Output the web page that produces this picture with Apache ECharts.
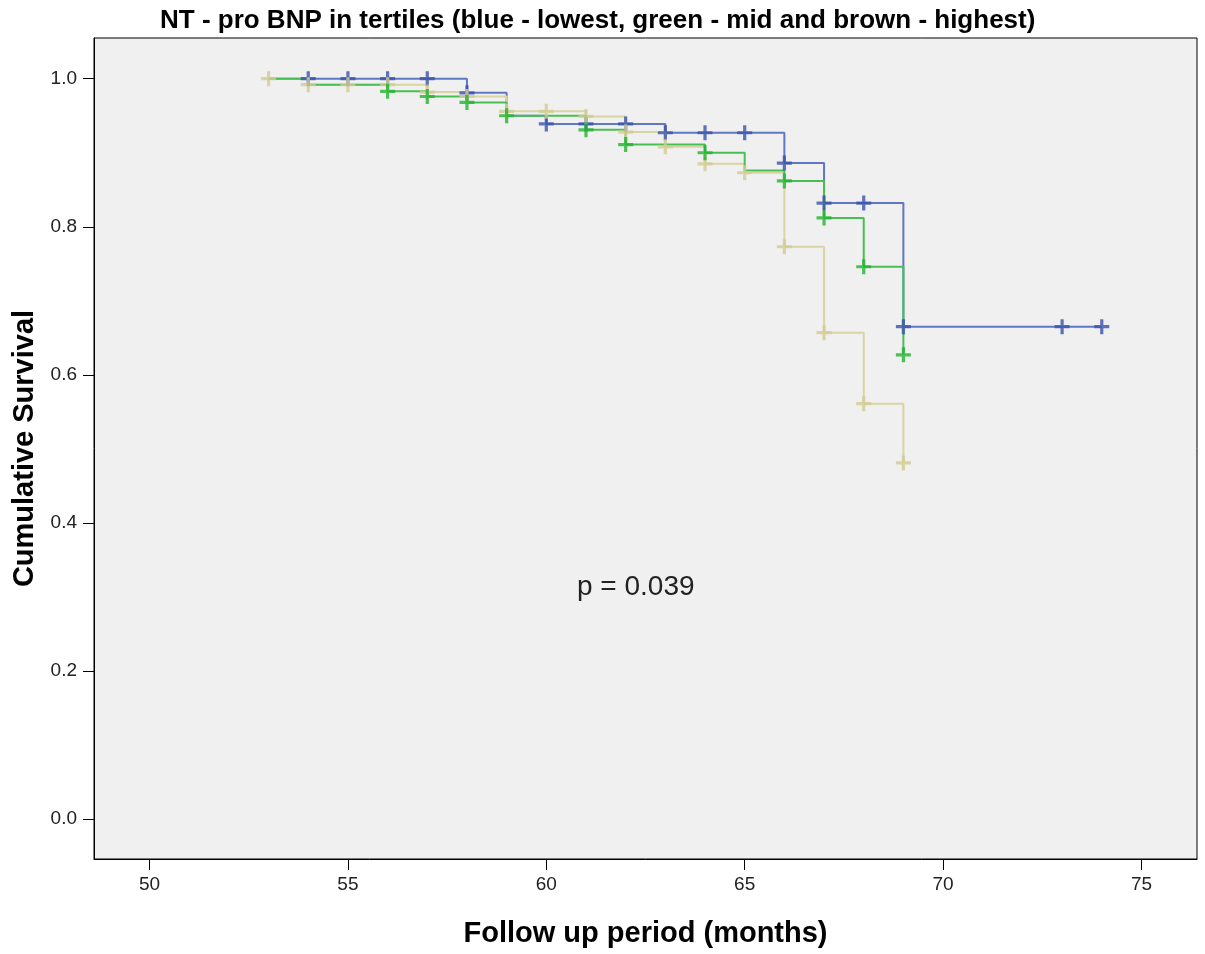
<!DOCTYPE html>
<html>
<head>
	<meta charset="UTF-8">
	<script type="text/javascript" src="https://cdn.jsdelivr.net/npm/echarts@6/dist/echarts.min.js"></script>
	<title>NT - pro BNP</title>
	<style type="text/css">
		html, body{
			margin:0;
			padding:0;
			background:#fff;
		}
		#km_box{
			width:1205px;
			height:954px;
		}
	</style>
</head>
<body>
<div id="km_box"></div>
<script type="text/javascript">
// 刻度
var xTicks = [50, 55, 60, 65, 70, 75];
var yTicks = [0, 0.2, 0.4, 0.6, 0.8, 1.0];

// blue - lowest tertile
var blueTimes = [53, 58, 59, 60, 63, 66, 67, 69, 74];
var blueSurv = [1.0, 0.981, 0.950, 0.939, 0.927, 0.886, 0.832, 0.665, 0.665];
var blueCensor = [54, 55, 56, 57, 58, 60, 61, 62, 63, 64, 65, 66, 67, 68, 69, 73, 74];

// green - mid tertile
var greenTimes = [53, 54, 56, 57, 58, 59, 61, 62, 64, 65, 66, 67, 68, 69];
var greenSurv = [1.0, 0.992, 0.983, 0.976, 0.968, 0.950, 0.931, 0.911, 0.900, 0.876, 0.862, 0.812, 0.746, 0.627];
var greenCensor = [56, 57, 58, 59, 61, 62, 64, 66, 67, 68, 69];

// brown - highest tertile
var brownTimes = [53, 54, 57, 58, 59, 61, 62, 63, 64, 65, 66, 67, 68, 69];
var brownSurv = [1.0, 0.992, 0.982, 0.976, 0.956, 0.949, 0.928, 0.908, 0.885, 0.873, 0.773, 0.657, 0.561, 0.481];
var brownCensor = [53, 54, 55, 56, 57, 58, 59, 60, 61, 62, 63, 64, 65, 66, 67, 68, 69];

var titleText = 'NT - pro BNP in tertiles (blue - lowest, green - mid and brown - highest)';
var pText = 'p = 0.039';

// 阶梯函数取值
function survAt(times, surv, t){
	var v = surv[0];
	for (var i = 0; i < times.length; i++) {
		if (times[i] <= t) v = surv[i];
	}
	return v;
}
function zip(a, b){
	return a.map(function(v, i){ return [v, b[i]]; });
}
function censorPts(times, surv, cens){
	return cens.map(function(t){ return [t, survAt(times, surv, t)]; });
}

var plus = 'path://M-1.5,-7H1.5V-1.5H7V1.5H1.5V7H-1.5V1.5H-7V-1.5H-1.5Z';

function lineSeries(name, times, surv, color){
	return {
		name: name,
		type: 'line',
		step: 'end',
		symbol: 'none',
		data: zip(times, surv),
		lineStyle: { color: color, width: 2 },
		silent: true,
		z: 2
	};
}
function markSeries(name, times, surv, cens, color){
	return {
		name: name,
		type: 'scatter',
		symbol: plus,
		symbolSize: 15,
		data: censorPts(times, surv, cens),
		itemStyle: { color: color },
		silent: true,
		z: 3
	};
}

var font = 'Liberation Sans, Arial, sans-serif';

var km_box = echarts.init(document.getElementById('km_box'));
var option = {
	animation: false,
	grid: {
		left: 94,
		top: 38,
		right: 8,
		bottom: 95,
		show: true,
		backgroundColor: '#f0f0f0',
		borderColor: '#000',
		borderWidth: 1
	},
	xAxis: {
		type: 'value',
		min: 48.6,
		max: 76.4,
		name: 'Follow up period (months)',
		nameLocation: 'middle',
		nameGap: 60,
		nameTextStyle: {
			fontFamily: font,
			fontWeight: 'bold',
			fontSize: 29,
			color: '#000'
		},
		axisLine: { show: true, onZero: false, lineStyle: { color: '#000', width: 1 } },
		axisTick: { show: true, length: 11, customValues: xTicks, lineStyle: { color: '#000' } },
		axisLabel: {
			customValues: xTicks,
			margin: 16,
			fontFamily: font,
			fontSize: 19,
			color: '#222'
		},
		splitLine: { show: false }
	},
	yAxis: {
		type: 'value',
		min: -0.054,
		max: 1.055,
		name: 'Cumulative Survival',
		nameLocation: 'middle',
		nameGap: 55,
		nameTextStyle: {
			fontFamily: font,
			fontWeight: 'bold',
			fontSize: 29,
			color: '#000'
		},
		axisLine: { show: true, onZero: false, lineStyle: { color: '#000', width: 1 } },
		axisTick: { show: true, length: 11, customValues: yTicks, lineStyle: { color: '#000' } },
		axisLabel: {
			customValues: yTicks,
			margin: 17,
			formatter: function(v){ return v.toFixed(1); },
			fontFamily: font,
			fontSize: 19,
			color: '#222'
		},
		splitLine: { show: false }
	},
	graphic: [{
		type: 'text',
		left: 160,
		top: 8,
		style: {
			text: titleText,
			fontFamily: font,
			fontWeight: 'bold',
			fontSize: 26,
			fill: '#000'
		}
	}, {
		type: 'text',
		left: 577,
		top: 573,
		style: {
			text: pText,
			fontFamily: font,
			fontSize: 28,
			fill: '#222'
		}
	}],
	series: [
		lineSeries('blue', blueTimes, blueSurv, '#5f78c4'),
		lineSeries('brown', brownTimes, brownSurv, '#d9d4a4'),
		lineSeries('green', greenTimes, greenSurv, '#48bf52'),
		markSeries('blue+', blueTimes, blueSurv, blueCensor, '#3a52ad'),
		markSeries('brown+', brownTimes, brownSurv, brownCensor, '#d2cc92'),
		markSeries('green+', greenTimes, greenSurv, greenCensor, '#22b431')
	]
};
km_box.setOption(option);
</script>
</body>
</html>
